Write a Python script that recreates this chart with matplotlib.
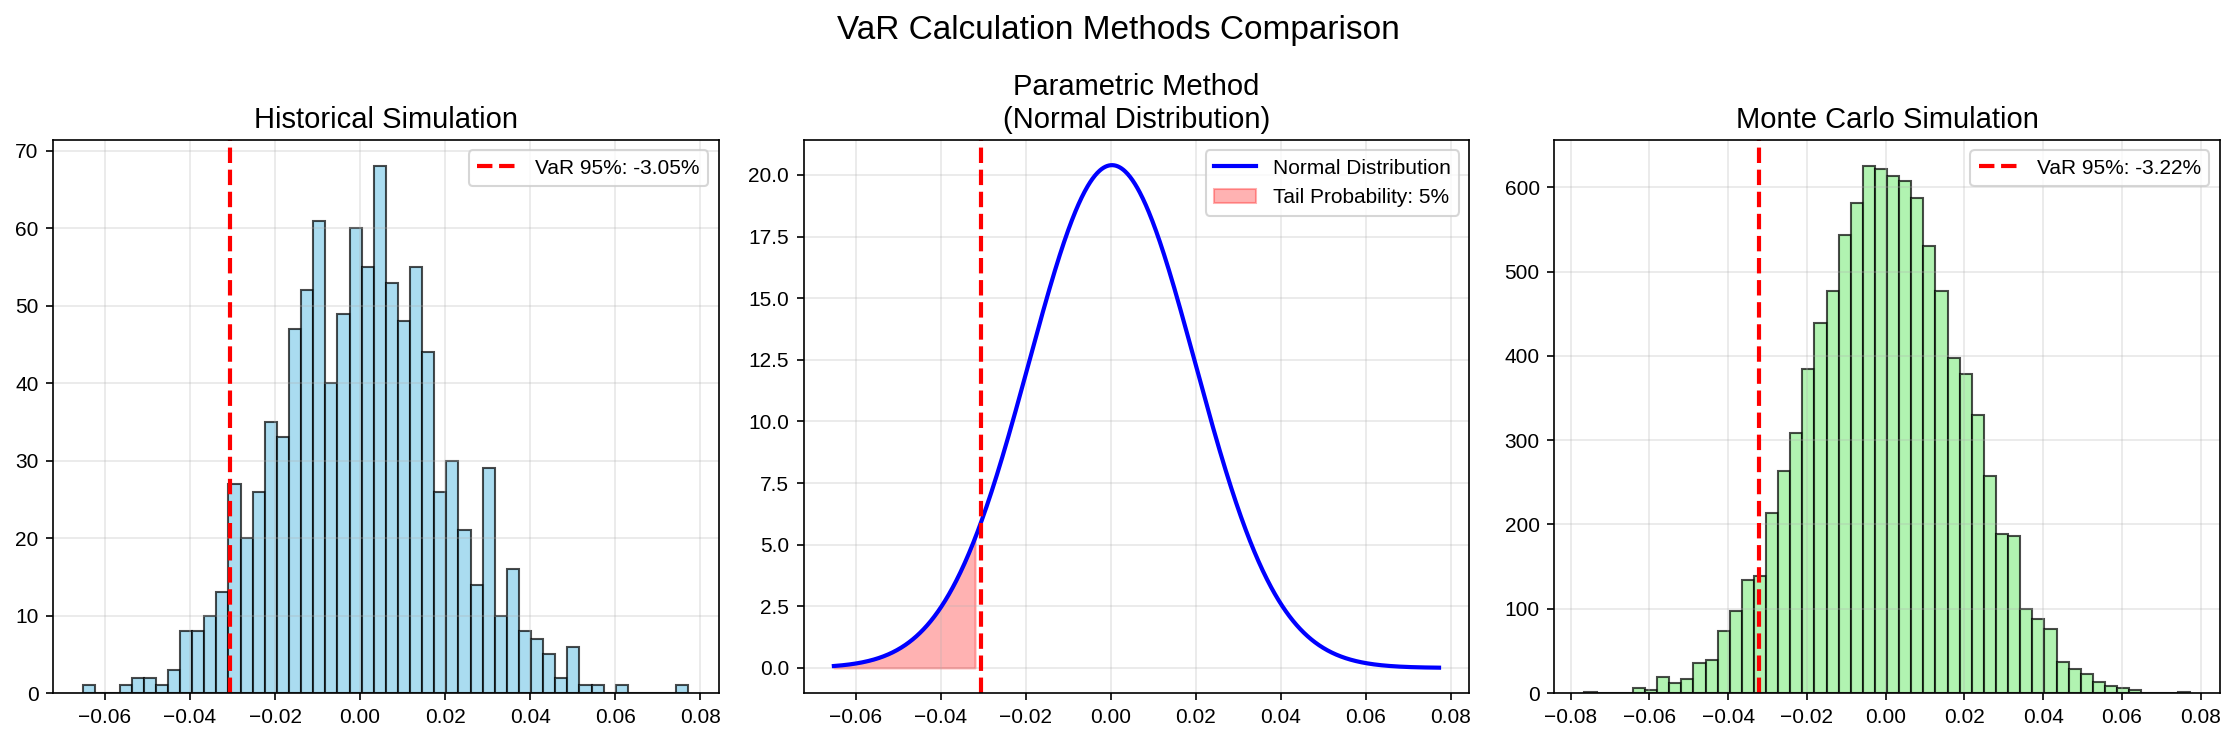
import numpy as np
import matplotlib
matplotlib.use("Agg")
from matplotlib import pyplot as plt

plt.rcParams['font.family'] = ['Liberation Sans', 'DejaVu Sans']

# historical returns histogram (50 bins between min and max)
hist_min, hist_max = -0.0651, 0.0772
hist_counts = [1, 0, 0, 1, 2, 2, 1, 3, 8, 8,
               10, 13, 27, 20, 26, 35, 33, 47, 52, 61,
               40, 49, 60, 55, 68, 53, 48, 55, 44, 26,
               30, 21, 14, 29, 10, 16, 8, 7, 5, 2,
               6, 1, 1, 0, 1, 0, 0, 0, 0, 1]
hist_var = -0.0305

# parametric (normal) fit
mu = 0.0003
sigma = 0.01956
param_var_line = -0.0305
tail_cut = -0.0319

# monte carlo simulation histogram
mc_min, mc_max = -0.0765, 0.0772
mc_counts = [1, 0, 0, 0, 6, 4, 19, 12, 17, 36,
             39, 74, 97, 134, 139, 214, 264, 308, 385, 439,
             477, 544, 581, 625, 622, 614, 608, 588, 530, 477,
             398, 378, 330, 258, 189, 186, 100, 88, 76, 37,
             28, 22, 13, 8, 6, 3, 0, 0, 0, 1]
mc_var = -0.0322

fig, axes = plt.subplots(1, 3, figsize=(2236 / 150, 742 / 150), dpi=150)
fig.subplots_adjust(left=0.0237, right=0.9928, bottom=0.066, top=0.8113, wspace=0.1276)

# Historical
ax = axes[0]
edges = np.linspace(hist_min, hist_max, len(hist_counts) + 1)
ax.hist(edges[:-1], bins=edges, weights=hist_counts, color='skyblue', edgecolor='black', alpha=0.7)
ax.axvline(hist_var, color='red', linestyle='--', linewidth=2, label=f'VaR 95%: {hist_var*100:.2f}%')
ax.set_title('Historical Simulation', fontsize=14)
ax.legend(loc='upper right')
ax.grid(True, alpha=0.3)

# Parametric
ax = axes[1]
x = np.linspace(hist_min, hist_max, 1000)
pdf = np.exp(-0.5 * ((x - mu) / sigma) ** 2) / (sigma * np.sqrt(2 * np.pi))
ax.plot(x, pdf, 'b-', linewidth=2, label='Normal Distribution')
ax.axvline(param_var_line, color='red', linestyle='--', linewidth=2)
ax.fill_between(x[x <= tail_cut], pdf[x <= tail_cut], alpha=0.3, color='red', label='Tail Probability: 5%')
ax.set_title('Parametric Method\n(Normal Distribution)', fontsize=14)
ax.legend(loc='upper right')
ax.grid(True, alpha=0.3)

# Monte Carlo
ax = axes[2]
edges = np.linspace(mc_min, mc_max, len(mc_counts) + 1)
ax.hist(edges[:-1], bins=edges, weights=mc_counts, color='lightgreen', edgecolor='black', alpha=0.7)
ax.axvline(mc_var, color='red', linestyle='--', linewidth=2, label=f'VaR 95%: {mc_var*100:.2f}%')
ax.set_title('Monte Carlo Simulation', fontsize=14)
ax.legend(loc='upper right')
ax.grid(True, alpha=0.3)

fig.suptitle('VaR Calculation Methods Comparison', fontsize=16, y=0.98)
fig.savefig('out.png', dpi=150)
